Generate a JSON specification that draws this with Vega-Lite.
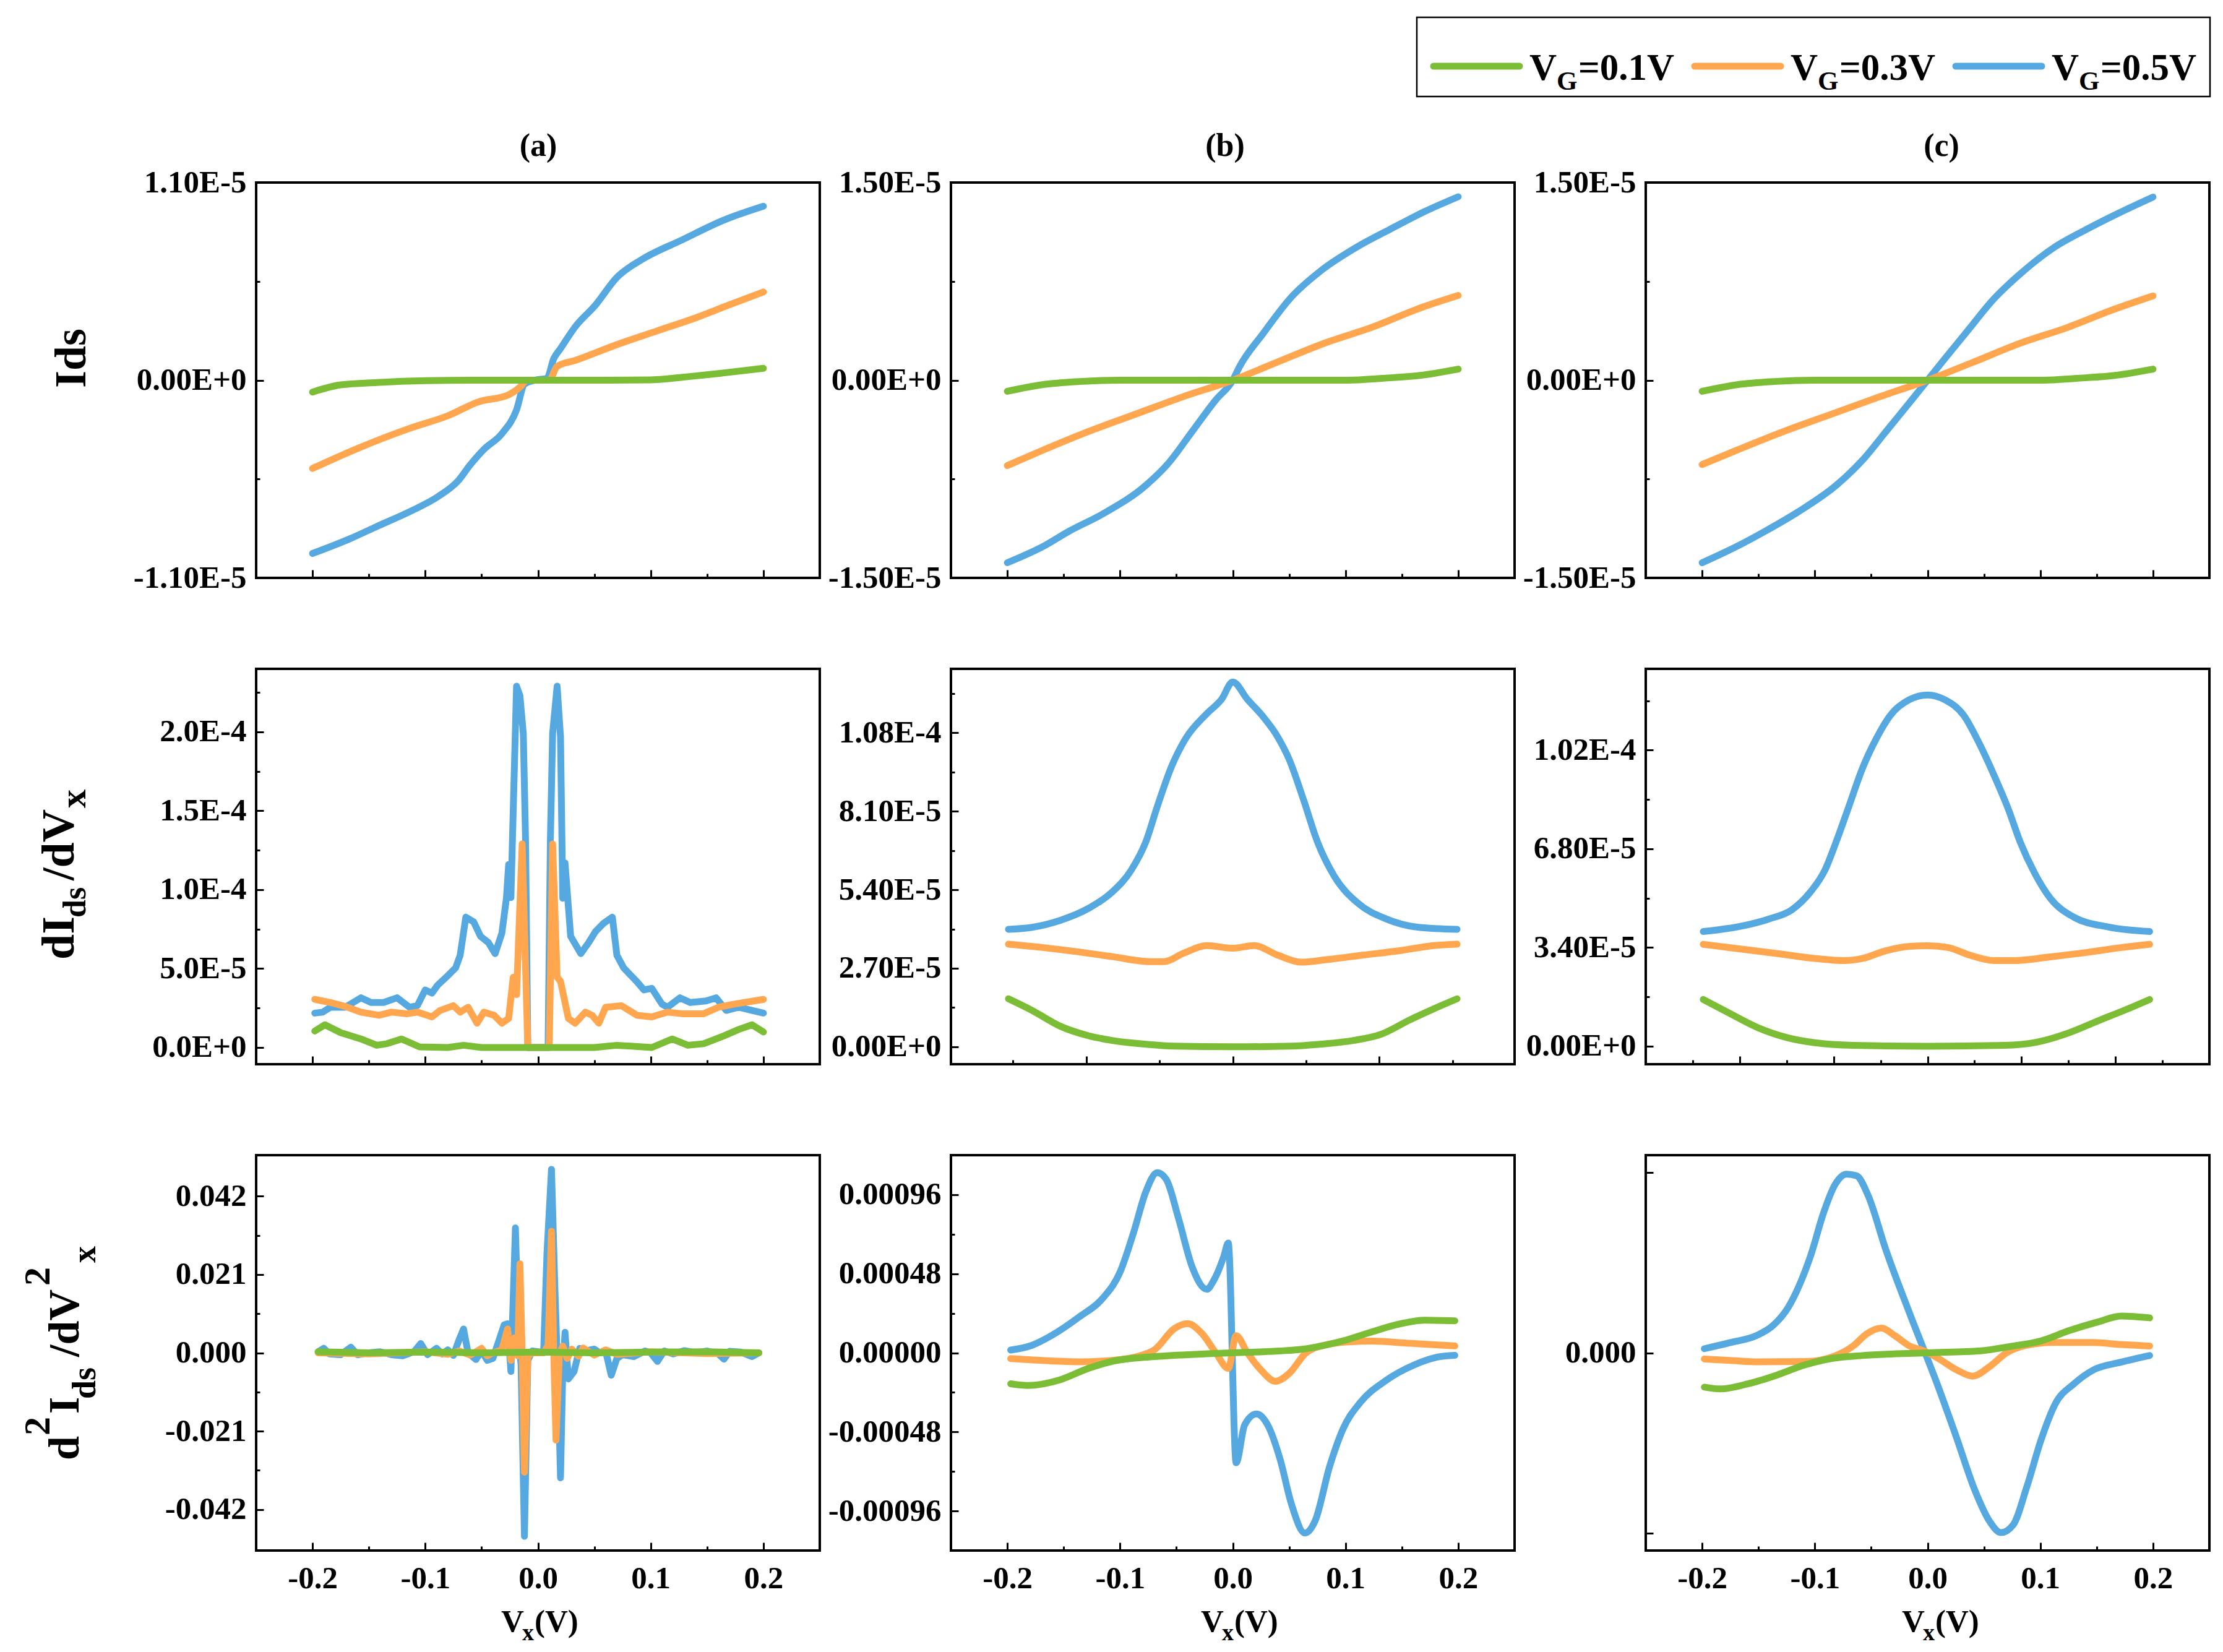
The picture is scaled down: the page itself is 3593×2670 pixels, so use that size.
{
  "$schema": "https://vega.github.io/schema/vega-lite/v6.json",
  "background": "white",
  "padding": 0,
  "columns": 3,
  "bounds": "flush",
  "spacing": {"row": 147, "column": 212},
  "datasets": {
    "iv": [
      {"p":"a1","s":"0.5","x":-0.2,"y":-9.64e-6},{"p":"a1","s":"0.5","x":-0.166,"y":-8.8e-6},{"p":"a1","s":"0.5","x":-0.143,"y":-8.14e-6},{"p":"a1","s":"0.5","x":-0.112,"y":-7.26e-6},{"p":"a1","s":"0.5","x":-0.089,"y":-6.49e-6},{"p":"a1","s":"0.5","x":-0.071,"y":-5.61e-6},{"p":"a1","s":"0.5","x":-0.06,"y":-4.7e-6},{"p":"a1","s":"0.5","x":-0.048,"y":-3.85e-6},{"p":"a1","s":"0.5","x":-0.032,"y":-2.97e-6},{"p":"a1","s":"0.5","x":-0.019,"y":-1.65e-6},{"p":"a1","s":"0.5","x":-0.012,"y":-2.2e-7},{"p":"a1","s":"0.5","x":-0.003,"y":0},{"p":"a1","s":"0.5","x":0.008,"y":1e-7},{"p":"a1","s":"0.5","x":0.014,"y":1.2e-6},{"p":"a1","s":"0.5","x":0.02,"y":1.76e-6},{"p":"a1","s":"0.5","x":0.033,"y":2.97e-6},{"p":"a1","s":"0.5","x":0.051,"y":4.18e-6},{"p":"a1","s":"0.5","x":0.07,"y":5.72e-6},{"p":"a1","s":"0.5","x":0.092,"y":6.71e-6},{"p":"a1","s":"0.5","x":0.128,"y":7.81e-6},{"p":"a1","s":"0.5","x":0.165,"y":8.91e-6},{"p":"a1","s":"0.5","x":0.2,"y":9.68e-6},
      {"p":"a1","s":"0.3","x":-0.2,"y":-4.91e-6},{"p":"a1","s":"0.3","x":-0.162,"y":-3.85e-6},{"p":"a1","s":"0.3","x":-0.112,"y":-2.64e-6},{"p":"a1","s":"0.3","x":-0.08,"y":-1.98e-6},{"p":"a1","s":"0.3","x":-0.053,"y":-1.21e-6},{"p":"a1","s":"0.3","x":-0.026,"y":-8.1e-7},{"p":"a1","s":"0.3","x":-0.015,"y":-3.3e-7},{"p":"a1","s":"0.3","x":-0.01,"y":0},{"p":"a1","s":"0.3","x":0.01,"y":0},{"p":"a1","s":"0.3","x":0.017,"y":7.7e-7},{"p":"a1","s":"0.3","x":0.033,"y":1.1e-6},{"p":"a1","s":"0.3","x":0.07,"y":1.98e-6},{"p":"a1","s":"0.3","x":0.106,"y":2.75e-6},{"p":"a1","s":"0.3","x":0.142,"y":3.52e-6},{"p":"a1","s":"0.3","x":0.169,"y":4.18e-6},{"p":"a1","s":"0.3","x":0.2,"y":4.91e-6},
      {"p":"a1","s":"0.1","x":-0.2,"y":-6.6e-7},{"p":"a1","s":"0.1","x":-0.175,"y":-2.6e-7},{"p":"a1","s":"0.1","x":-0.143,"y":-1.3e-7},{"p":"a1","s":"0.1","x":-0.1,"y":-3e-8},{"p":"a1","s":"0.1","x":-0.05,"y":0},{"p":"a1","s":"0.1","x":0,"y":0},{"p":"a1","s":"0.1","x":0.05,"y":0},{"p":"a1","s":"0.1","x":0.1,"y":2e-8},{"p":"a1","s":"0.1","x":0.137,"y":2.2e-7},{"p":"a1","s":"0.1","x":0.164,"y":4e-7},{"p":"a1","s":"0.1","x":0.2,"y":6.6e-7},

      {"p":"b1","s":"0.5","x":-0.2,"y":-1.385e-5},{"p":"b1","s":"0.5","x":-0.169,"y":-1.265e-5},{"p":"b1","s":"0.5","x":-0.145,"y":-1.145e-5},{"p":"b1","s":"0.5","x":-0.115,"y":-1.013e-5},{"p":"b1","s":"0.5","x":-0.077,"y":-7.97e-6},{"p":"b1","s":"0.5","x":-0.057,"y":-6.29e-6},{"p":"b1","s":"0.5","x":-0.036,"y":-3.89e-6},{"p":"b1","s":"0.5","x":-0.015,"y":-1.49e-6},{"p":"b1","s":"0.5","x":0,"y":0},{"p":"b1","s":"0.5","x":0.006,"y":1.03e-6},{"p":"b1","s":"0.5","x":0.027,"y":3.55e-6},{"p":"b1","s":"0.5","x":0.052,"y":6.31e-6},{"p":"b1","s":"0.5","x":0.077,"y":8.23e-6},{"p":"b1","s":"0.5","x":0.111,"y":1.015e-5},{"p":"b1","s":"0.5","x":0.14,"y":1.147e-5},{"p":"b1","s":"0.5","x":0.17,"y":1.279e-5},{"p":"b1","s":"0.5","x":0.2,"y":1.392e-5},
      {"p":"b1","s":"0.3","x":-0.2,"y":-6.48e-6},{"p":"b1","s":"0.3","x":-0.169,"y":-5.33e-6},{"p":"b1","s":"0.3","x":-0.128,"y":-3.89e-6},{"p":"b1","s":"0.3","x":-0.086,"y":-2.57e-6},{"p":"b1","s":"0.3","x":-0.044,"y":-1.25e-6},{"p":"b1","s":"0.3","x":0,"y":0},{"p":"b1","s":"0.3","x":0.04,"y":1.39e-6},{"p":"b1","s":"0.3","x":0.082,"y":2.83e-6},{"p":"b1","s":"0.3","x":0.124,"y":4.03e-6},{"p":"b1","s":"0.3","x":0.166,"y":5.47e-6},{"p":"b1","s":"0.3","x":0.2,"y":6.43e-6},
      {"p":"b1","s":"0.1","x":-0.2,"y":-8.4e-7},{"p":"b1","s":"0.1","x":-0.169,"y":-3.4e-7},{"p":"b1","s":"0.1","x":-0.136,"y":-1e-7},{"p":"b1","s":"0.1","x":-0.1,"y":0},{"p":"b1","s":"0.1","x":0,"y":0},{"p":"b1","s":"0.1","x":0.103,"y":0},{"p":"b1","s":"0.1","x":0.132,"y":1.4e-7},{"p":"b1","s":"0.1","x":0.166,"y":3.6e-7},{"p":"b1","s":"0.1","x":0.2,"y":8.4e-7},

      {"p":"c1","s":"0.5","x":-0.2,"y":-1.385e-5},{"p":"c1","s":"0.5","x":-0.169,"y":-1.26e-5},{"p":"c1","s":"0.5","x":-0.145,"y":-1.15e-5},{"p":"c1","s":"0.5","x":-0.115,"y":-1.0e-5},{"p":"c1","s":"0.5","x":-0.08,"y":-7.9e-6},{"p":"c1","s":"0.5","x":-0.057,"y":-6.0e-6},{"p":"c1","s":"0.5","x":-0.036,"y":-3.8e-6},{"p":"c1","s":"0.5","x":-0.015,"y":-1.6e-6},{"p":"c1","s":"0.5","x":0,"y":0},{"p":"c1","s":"0.5","x":0.015,"y":1.6e-6},{"p":"c1","s":"0.5","x":0.036,"y":3.8e-6},{"p":"c1","s":"0.5","x":0.057,"y":6.0e-6},{"p":"c1","s":"0.5","x":0.08,"y":7.9e-6},{"p":"c1","s":"0.5","x":0.111,"y":1.0e-5},{"p":"c1","s":"0.5","x":0.14,"y":1.14e-5},{"p":"c1","s":"0.5","x":0.17,"y":1.27e-5},{"p":"c1","s":"0.5","x":0.2,"y":1.39e-5},
      {"p":"c1","s":"0.3","x":-0.2,"y":-6.4e-6},{"p":"c1","s":"0.3","x":-0.169,"y":-5.3e-6},{"p":"c1","s":"0.3","x":-0.128,"y":-3.9e-6},{"p":"c1","s":"0.3","x":-0.086,"y":-2.6e-6},{"p":"c1","s":"0.3","x":-0.044,"y":-1.3e-6},{"p":"c1","s":"0.3","x":0,"y":0},{"p":"c1","s":"0.3","x":0.04,"y":1.35e-6},{"p":"c1","s":"0.3","x":0.082,"y":2.8e-6},{"p":"c1","s":"0.3","x":0.124,"y":4.0e-6},{"p":"c1","s":"0.3","x":0.166,"y":5.4e-6},{"p":"c1","s":"0.3","x":0.2,"y":6.4e-6},
      {"p":"c1","s":"0.1","x":-0.2,"y":-8.4e-7},{"p":"c1","s":"0.1","x":-0.169,"y":-3.4e-7},{"p":"c1","s":"0.1","x":-0.136,"y":-1e-7},{"p":"c1","s":"0.1","x":-0.1,"y":0},{"p":"c1","s":"0.1","x":0,"y":0},{"p":"c1","s":"0.1","x":0.103,"y":0},{"p":"c1","s":"0.1","x":0.132,"y":1.4e-7},{"p":"c1","s":"0.1","x":0.166,"y":3.6e-7},{"p":"c1","s":"0.1","x":0.2,"y":8.4e-7},

      {"p":"a2","s":"0.5","x":-0.198,"y":2.18e-5},{"p":"a2","s":"0.5","x":-0.191,"y":2.24e-5},{"p":"a2","s":"0.5","x":-0.184,"y":2.55e-5},{"p":"a2","s":"0.5","x":-0.171,"y":2.55e-5},{"p":"a2","s":"0.5","x":-0.157,"y":3.15e-5},{"p":"a2","s":"0.5","x":-0.148,"y":2.85e-5},{"p":"a2","s":"0.5","x":-0.137,"y":2.85e-5},{"p":"a2","s":"0.5","x":-0.125,"y":3.15e-5},{"p":"a2","s":"0.5","x":-0.114,"y":2.55e-5},{"p":"a2","s":"0.5","x":-0.107,"y":2.65e-5},{"p":"a2","s":"0.5","x":-0.1,"y":3.65e-5},{"p":"a2","s":"0.5","x":-0.094,"y":3.45e-5},{"p":"a2","s":"0.5","x":-0.089,"y":3.95e-5},{"p":"a2","s":"0.5","x":-0.08,"y":4.55e-5},{"p":"a2","s":"0.5","x":-0.073,"y":5.05e-5},{"p":"a2","s":"0.5","x":-0.069,"y":5.85e-5},{"p":"a2","s":"0.5","x":-0.064,"y":8.26e-5},{"p":"a2","s":"0.5","x":-0.057,"y":7.96e-5},{"p":"a2","s":"0.5","x":-0.051,"y":7.05e-5},{"p":"a2","s":"0.5","x":-0.044,"y":6.65e-5},{"p":"a2","s":"0.5","x":-0.038,"y":5.95e-5},{"p":"a2","s":"0.5","x":-0.032,"y":7.25e-5},{"p":"a2","s":"0.5","x":-0.028,"y":9.46e-5},{"p":"a2","s":"0.5","x":-0.026,"y":1.16e-4},{"p":"a2","s":"0.5","x":-0.024,"y":9.5e-5},{"p":"a2","s":"0.5","x":-0.019,"y":2.29e-4},{"p":"a2","s":"0.5","x":-0.016,"y":2.23e-4},{"p":"a2","s":"0.5","x":-0.013,"y":1.99e-4},{"p":"a2","s":"0.5","x":-0.011,"y":1.31e-4},{"p":"a2","s":"0.5","x":-0.009,"y":0},{"p":"a2","s":"0.5","x":0.009,"y":0},{"p":"a2","s":"0.5","x":0.011,"y":1.31e-4},{"p":"a2","s":"0.5","x":0.013,"y":1.99e-4},{"p":"a2","s":"0.5","x":0.017,"y":2.29e-4},{"p":"a2","s":"0.5","x":0.02,"y":1.97e-4},{"p":"a2","s":"0.5","x":0.022,"y":9.46e-5},{"p":"a2","s":"0.5","x":0.024,"y":1.17e-4},{"p":"a2","s":"0.5","x":0.029,"y":7.05e-5},{"p":"a2","s":"0.5","x":0.038,"y":5.95e-5},{"p":"a2","s":"0.5","x":0.045,"y":6.65e-5},{"p":"a2","s":"0.5","x":0.051,"y":7.35e-5},{"p":"a2","s":"0.5","x":0.058,"y":7.86e-5},{"p":"a2","s":"0.5","x":0.066,"y":8.26e-5},{"p":"a2","s":"0.5","x":0.07,"y":5.85e-5},{"p":"a2","s":"0.5","x":0.076,"y":5.05e-5},{"p":"a2","s":"0.5","x":0.088,"y":4.15e-5},{"p":"a2","s":"0.5","x":0.094,"y":3.65e-5},{"p":"a2","s":"0.5","x":0.101,"y":3.75e-5},{"p":"a2","s":"0.5","x":0.11,"y":2.75e-5},{"p":"a2","s":"0.5","x":0.115,"y":2.55e-5},{"p":"a2","s":"0.5","x":0.126,"y":3.15e-5},{"p":"a2","s":"0.5","x":0.135,"y":2.85e-5},{"p":"a2","s":"0.5","x":0.149,"y":2.95e-5},{"p":"a2","s":"0.5","x":0.158,"y":3.15e-5},{"p":"a2","s":"0.5","x":0.167,"y":2.35e-5},{"p":"a2","s":"0.5","x":0.178,"y":2.55e-5},{"p":"a2","s":"0.5","x":0.19,"y":2.35e-5},{"p":"a2","s":"0.5","x":0.2,"y":2.18e-5},
      {"p":"a2","s":"0.3","x":-0.198,"y":3.05e-5},{"p":"a2","s":"0.3","x":-0.184,"y":2.85e-5},{"p":"a2","s":"0.3","x":-0.171,"y":2.6e-5},{"p":"a2","s":"0.3","x":-0.157,"y":2.24e-5},{"p":"a2","s":"0.3","x":-0.141,"y":2.04e-5},{"p":"a2","s":"0.3","x":-0.13,"y":2.24e-5},{"p":"a2","s":"0.3","x":-0.116,"y":2.14e-5},{"p":"a2","s":"0.3","x":-0.107,"y":2.24e-5},{"p":"a2","s":"0.3","x":-0.094,"y":1.94e-5},{"p":"a2","s":"0.3","x":-0.087,"y":2.34e-5},{"p":"a2","s":"0.3","x":-0.075,"y":2.65e-5},{"p":"a2","s":"0.3","x":-0.069,"y":2.24e-5},{"p":"a2","s":"0.3","x":-0.062,"y":2.55e-5},{"p":"a2","s":"0.3","x":-0.054,"y":1.54e-5},{"p":"a2","s":"0.3","x":-0.048,"y":2.24e-5},{"p":"a2","s":"0.3","x":-0.039,"y":2.04e-5},{"p":"a2","s":"0.3","x":-0.032,"y":1.54e-5},{"p":"a2","s":"0.3","x":-0.026,"y":1.84e-5},{"p":"a2","s":"0.3","x":-0.022,"y":4.45e-5},{"p":"a2","s":"0.3","x":-0.019,"y":3.35e-5},{"p":"a2","s":"0.3","x":-0.014,"y":1.29e-4},{"p":"a2","s":"0.3","x":-0.011,"y":5.05e-5},{"p":"a2","s":"0.3","x":-0.009,"y":0},{"p":"a2","s":"0.3","x":0.01,"y":0},{"p":"a2","s":"0.3","x":0.013,"y":1.29e-4},{"p":"a2","s":"0.3","x":0.017,"y":4.45e-5},{"p":"a2","s":"0.3","x":0.02,"y":4.2e-5},{"p":"a2","s":"0.3","x":0.027,"y":1.84e-5},{"p":"a2","s":"0.3","x":0.033,"y":1.54e-5},{"p":"a2","s":"0.3","x":0.042,"y":2.24e-5},{"p":"a2","s":"0.3","x":0.048,"y":2.04e-5},{"p":"a2","s":"0.3","x":0.054,"y":1.54e-5},{"p":"a2","s":"0.3","x":0.06,"y":2.55e-5},{"p":"a2","s":"0.3","x":0.074,"y":2.65e-5},{"p":"a2","s":"0.3","x":0.088,"y":2.04e-5},{"p":"a2","s":"0.3","x":0.101,"y":1.94e-5},{"p":"a2","s":"0.3","x":0.115,"y":2.24e-5},{"p":"a2","s":"0.3","x":0.128,"y":2.14e-5},{"p":"a2","s":"0.3","x":0.147,"y":2.14e-5},{"p":"a2","s":"0.3","x":0.16,"y":2.55e-5},{"p":"a2","s":"0.3","x":0.174,"y":2.75e-5},{"p":"a2","s":"0.3","x":0.2,"y":3.05e-5},
      {"p":"a2","s":"0.1","x":-0.198,"y":1.04e-5},{"p":"a2","s":"0.1","x":-0.189,"y":1.44e-5},{"p":"a2","s":"0.1","x":-0.175,"y":9.4e-6},{"p":"a2","s":"0.1","x":-0.157,"y":5.4e-6},{"p":"a2","s":"0.1","x":-0.143,"y":1.4e-6},{"p":"a2","s":"0.1","x":-0.134,"y":2.4e-6},{"p":"a2","s":"0.1","x":-0.121,"y":5.4e-6},{"p":"a2","s":"0.1","x":-0.105,"y":4e-7},{"p":"a2","s":"0.1","x":-0.08,"y":0},{"p":"a2","s":"0.1","x":-0.066,"y":1.4e-6},{"p":"a2","s":"0.1","x":-0.05,"y":0},{"p":"a2","s":"0.1","x":0,"y":0},{"p":"a2","s":"0.1","x":0.05,"y":0},{"p":"a2","s":"0.1","x":0.07,"y":1.4e-6},{"p":"a2","s":"0.1","x":0.101,"y":0},{"p":"a2","s":"0.1","x":0.119,"y":5.4e-6},{"p":"a2","s":"0.1","x":0.133,"y":1.4e-6},{"p":"a2","s":"0.1","x":0.147,"y":2.4e-6},{"p":"a2","s":"0.1","x":0.165,"y":7.4e-6},{"p":"a2","s":"0.1","x":0.178,"y":1.14e-5},{"p":"a2","s":"0.1","x":0.19,"y":1.44e-5},{"p":"a2","s":"0.1","x":0.2,"y":9.8e-6},

      {"p":"b2","s":"0.5","x":-0.199,"y":4.04e-5},{"p":"b2","s":"0.5","x":-0.178,"y":4.11e-5},{"p":"b2","s":"0.5","x":-0.153,"y":4.35e-5},{"p":"b2","s":"0.5","x":-0.128,"y":4.76e-5},{"p":"b2","s":"0.5","x":-0.107,"y":5.32e-5},{"p":"b2","s":"0.5","x":-0.09,"y":6.08e-5},{"p":"b2","s":"0.5","x":-0.077,"y":7.06e-5},{"p":"b2","s":"0.5","x":-0.067,"y":8.26e-5},{"p":"b2","s":"0.5","x":-0.054,"y":9.67e-5},{"p":"b2","s":"0.5","x":-0.042,"y":1.059e-4},{"p":"b2","s":"0.5","x":-0.023,"y":1.146e-4},{"p":"b2","s":"0.5","x":-0.01,"y":1.195e-4},{"p":"b2","s":"0.5","x":0,"y":1.255e-4},{"p":"b2","s":"0.5","x":0.013,"y":1.195e-4},{"p":"b2","s":"0.5","x":0.027,"y":1.135e-4},{"p":"b2","s":"0.5","x":0.04,"y":1.065e-4},{"p":"b2","s":"0.5","x":0.05,"y":9.89e-5},{"p":"b2","s":"0.5","x":0.063,"y":8.47e-5},{"p":"b2","s":"0.5","x":0.075,"y":7.06e-5},{"p":"b2","s":"0.5","x":0.09,"y":5.87e-5},{"p":"b2","s":"0.5","x":0.111,"y":4.94e-5},{"p":"b2","s":"0.5","x":0.136,"y":4.4e-5},{"p":"b2","s":"0.5","x":0.165,"y":4.11e-5},{"p":"b2","s":"0.5","x":0.199,"y":4.04e-5},
      {"p":"b2","s":"0.3","x":-0.199,"y":3.53e-5},{"p":"b2","s":"0.3","x":-0.17,"y":3.42e-5},{"p":"b2","s":"0.3","x":-0.136,"y":3.26e-5},{"p":"b2","s":"0.3","x":-0.107,"y":3.1e-5},{"p":"b2","s":"0.3","x":-0.073,"y":2.93e-5},{"p":"b2","s":"0.3","x":-0.061,"y":2.93e-5},{"p":"b2","s":"0.3","x":-0.044,"y":3.21e-5},{"p":"b2","s":"0.3","x":-0.023,"y":3.48e-5},{"p":"b2","s":"0.3","x":0,"y":3.39e-5},{"p":"b2","s":"0.3","x":0.019,"y":3.48e-5},{"p":"b2","s":"0.3","x":0.04,"y":3.15e-5},{"p":"b2","s":"0.3","x":0.061,"y":2.91e-5},{"p":"b2","s":"0.3","x":0.082,"y":2.99e-5},{"p":"b2","s":"0.3","x":0.115,"y":3.15e-5},{"p":"b2","s":"0.3","x":0.149,"y":3.31e-5},{"p":"b2","s":"0.3","x":0.178,"y":3.48e-5},{"p":"b2","s":"0.3","x":0.199,"y":3.53e-5},
      {"p":"b2","s":"0.1","x":-0.199,"y":1.65e-5},{"p":"b2","s":"0.1","x":-0.178,"y":1.25e-5},{"p":"b2","s":"0.1","x":-0.153,"y":7.06e-6},{"p":"b2","s":"0.1","x":-0.128,"y":3.8e-6},{"p":"b2","s":"0.1","x":-0.107,"y":2.17e-6},{"p":"b2","s":"0.1","x":-0.077,"y":8.7e-7},{"p":"b2","s":"0.1","x":-0.052,"y":2.2e-7},{"p":"b2","s":"0.1","x":0,"y":0},{"p":"b2","s":"0.1","x":0.052,"y":2.2e-7},{"p":"b2","s":"0.1","x":0.077,"y":8.7e-7},{"p":"b2","s":"0.1","x":0.107,"y":2.17e-6},{"p":"b2","s":"0.1","x":0.132,"y":4.35e-6},{"p":"b2","s":"0.1","x":0.157,"y":9.24e-6},{"p":"b2","s":"0.1","x":0.178,"y":1.3e-5},{"p":"b2","s":"0.1","x":0.199,"y":1.65e-5},

      {"p":"c2","s":"0.5","x":-0.199,"y":3.95e-5},{"p":"c2","s":"0.5","x":-0.166,"y":4.13e-5},{"p":"c2","s":"0.5","x":-0.141,"y":4.38e-5},{"p":"c2","s":"0.5","x":-0.12,"y":4.71e-5},{"p":"c2","s":"0.5","x":-0.104,"y":5.31e-5},{"p":"c2","s":"0.5","x":-0.091,"y":6.07e-5},{"p":"c2","s":"0.5","x":-0.081,"y":7.05e-5},{"p":"c2","s":"0.5","x":-0.07,"y":8.24e-5},{"p":"c2","s":"0.5","x":-0.058,"y":9.55e-5},{"p":"c2","s":"0.5","x":-0.045,"y":1.063e-4},{"p":"c2","s":"0.5","x":-0.033,"y":1.14e-4},{"p":"c2","s":"0.5","x":-0.016,"y":1.194e-4},{"p":"c2","s":"0.5","x":0,"y":1.21e-4},{"p":"c2","s":"0.5","x":0.015,"y":1.194e-4},{"p":"c2","s":"0.5","x":0.032,"y":1.14e-4},{"p":"c2","s":"0.5","x":0.046,"y":1.042e-4},{"p":"c2","s":"0.5","x":0.059,"y":9.33e-5},{"p":"c2","s":"0.5","x":0.072,"y":8.13e-5},{"p":"c2","s":"0.5","x":0.082,"y":7.05e-5},{"p":"c2","s":"0.5","x":0.095,"y":5.96e-5},{"p":"c2","s":"0.5","x":0.109,"y":5.09e-5},{"p":"c2","s":"0.5","x":0.13,"y":4.44e-5},{"p":"c2","s":"0.5","x":0.16,"y":4.11e-5},{"p":"c2","s":"0.5","x":0.197,"y":3.95e-5},
      {"p":"c2","s":"0.3","x":-0.199,"y":3.51e-5},{"p":"c2","s":"0.3","x":-0.166,"y":3.35e-5},{"p":"c2","s":"0.3","x":-0.133,"y":3.19e-5},{"p":"c2","s":"0.3","x":-0.099,"y":3.02e-5},{"p":"c2","s":"0.3","x":-0.074,"y":2.95e-5},{"p":"c2","s":"0.3","x":-0.058,"y":3.02e-5},{"p":"c2","s":"0.3","x":-0.037,"y":3.29e-5},{"p":"c2","s":"0.3","x":-0.016,"y":3.44e-5},{"p":"c2","s":"0.3","x":0,"y":3.46e-5},{"p":"c2","s":"0.3","x":0.018,"y":3.4e-5},{"p":"c2","s":"0.3","x":0.038,"y":3.13e-5},{"p":"c2","s":"0.3","x":0.059,"y":2.95e-5},{"p":"c2","s":"0.3","x":0.076,"y":2.95e-5},{"p":"c2","s":"0.3","x":0.109,"y":3.08e-5},{"p":"c2","s":"0.3","x":0.143,"y":3.24e-5},{"p":"c2","s":"0.3","x":0.172,"y":3.4e-5},{"p":"c2","s":"0.3","x":0.197,"y":3.51e-5},
      {"p":"c2","s":"0.1","x":-0.199,"y":1.61e-5},{"p":"c2","s":"0.1","x":-0.175,"y":1.12e-5},{"p":"c2","s":"0.1","x":-0.15,"y":6.3e-6},{"p":"c2","s":"0.1","x":-0.125,"y":3.0e-6},{"p":"c2","s":"0.1","x":-0.1,"y":1.2e-6},{"p":"c2","s":"0.1","x":-0.066,"y":3e-7},{"p":"c2","s":"0.1","x":0,"y":0},{"p":"c2","s":"0.1","x":0.068,"y":3e-7},{"p":"c2","s":"0.1","x":0.097,"y":1.4e-6},{"p":"c2","s":"0.1","x":0.126,"y":4.7e-6},{"p":"c2","s":"0.1","x":0.151,"y":8.7e-6},{"p":"c2","s":"0.1","x":0.176,"y":1.26e-5},{"p":"c2","s":"0.1","x":0.197,"y":1.61e-5},

      {"p":"a3","s":"0.5","x":-0.195,"y":0.0003},{"p":"a3","s":"0.5","x":-0.19,"y":0.0012},{"p":"a3","s":"0.5","x":-0.185,"y":-0.0003},{"p":"a3","s":"0.5","x":-0.175,"y":-0.0005},{"p":"a3","s":"0.5","x":-0.166,"y":0.0015},{"p":"a3","s":"0.5","x":-0.16,"y":-0.0005},{"p":"a3","s":"0.5","x":-0.15,"y":0},{"p":"a3","s":"0.5","x":-0.14,"y":0.0003},{"p":"a3","s":"0.5","x":-0.13,"y":-0.0005},{"p":"a3","s":"0.5","x":-0.12,"y":-0.0008},{"p":"a3","s":"0.5","x":-0.11,"y":0.0003},{"p":"a3","s":"0.5","x":-0.104,"y":0.0025},{"p":"a3","s":"0.5","x":-0.098,"y":-0.0005},{"p":"a3","s":"0.5","x":-0.09,"y":0.0012},{"p":"a3","s":"0.5","x":-0.085,"y":-0.0003},{"p":"a3","s":"0.5","x":-0.08,"y":0.0008},{"p":"a3","s":"0.5","x":-0.075,"y":-0.0007},{"p":"a3","s":"0.5","x":-0.07,"y":0.0035},{"p":"a3","s":"0.5","x":-0.066,"y":0.0064},{"p":"a3","s":"0.5","x":-0.062,"y":0},{"p":"a3","s":"0.5","x":-0.055,"y":-0.0018},{"p":"a3","s":"0.5","x":-0.05,"y":0.0005},{"p":"a3","s":"0.5","x":-0.045,"y":-0.002},{"p":"a3","s":"0.5","x":-0.04,"y":-0.0015},{"p":"a3","s":"0.5","x":-0.035,"y":0.003},{"p":"a3","s":"0.5","x":-0.03,"y":0.0075},{"p":"a3","s":"0.5","x":-0.027,"y":0.0078},{"p":"a3","s":"0.5","x":-0.024,"y":-0.005},{"p":"a3","s":"0.5","x":-0.02,"y":0.0335},{"p":"a3","s":"0.5","x":-0.017,"y":0.002},{"p":"a3","s":"0.5","x":-0.015,"y":-0.003},{"p":"a3","s":"0.5","x":-0.012,"y":-0.0492},{"p":"a3","s":"0.5","x":-0.009,"y":-0.002},{"p":"a3","s":"0.5","x":-0.005,"y":0.0005},{"p":"a3","s":"0.5","x":0,"y":0.0003},{"p":"a3","s":"0.5","x":0.005,"y":0},{"p":"a3","s":"0.5","x":0.008,"y":0.0267},{"p":"a3","s":"0.5","x":0.012,"y":0.0492},{"p":"a3","s":"0.5","x":0.015,"y":0.0175},{"p":"a3","s":"0.5","x":0.018,"y":-0.01},{"p":"a3","s":"0.5","x":0.02,"y":-0.0335},{"p":"a3","s":"0.5","x":0.022,"y":-0.005},{"p":"a3","s":"0.5","x":0.024,"y":0.0055},{"p":"a3","s":"0.5","x":0.027,"y":-0.007},{"p":"a3","s":"0.5","x":0.032,"y":-0.005},{"p":"a3","s":"0.5","x":0.037,"y":0.0012},{"p":"a3","s":"0.5","x":0.042,"y":0.0005},{"p":"a3","s":"0.5","x":0.05,"y":0.001},{"p":"a3","s":"0.5","x":0.055,"y":0},{"p":"a3","s":"0.5","x":0.06,"y":0.0005},{"p":"a3","s":"0.5","x":0.065,"y":-0.006},{"p":"a3","s":"0.5","x":0.07,"y":-0.0015},{"p":"a3","s":"0.5","x":0.075,"y":-0.0005},{"p":"a3","s":"0.5","x":0.085,"y":-0.001},{"p":"a3","s":"0.5","x":0.095,"y":0.0005},{"p":"a3","s":"0.5","x":0.1,"y":0},{"p":"a3","s":"0.5","x":0.106,"y":-0.0023},{"p":"a3","s":"0.5","x":0.112,"y":0.0005},{"p":"a3","s":"0.5","x":0.12,"y":-0.0003},{"p":"a3","s":"0.5","x":0.13,"y":0.0006},{"p":"a3","s":"0.5","x":0.14,"y":0},{"p":"a3","s":"0.5","x":0.15,"y":0.0005},{"p":"a3","s":"0.5","x":0.16,"y":-0.0003},{"p":"a3","s":"0.5","x":0.165,"y":-0.0017},{"p":"a3","s":"0.5","x":0.17,"y":0.0004},{"p":"a3","s":"0.5","x":0.18,"y":0.0002},{"p":"a3","s":"0.5","x":0.19,"y":-0.001},{"p":"a3","s":"0.5","x":0.196,"y":0},
      {"p":"a3","s":"0.3","x":-0.195,"y":0},{"p":"a3","s":"0.3","x":-0.15,"y":-0.0003},{"p":"a3","s":"0.3","x":-0.1,"y":0.0003},{"p":"a3","s":"0.3","x":-0.08,"y":-0.0004},{"p":"a3","s":"0.3","x":-0.07,"y":0.0005},{"p":"a3","s":"0.3","x":-0.06,"y":-0.0006},{"p":"a3","s":"0.3","x":-0.05,"y":0.0012},{"p":"a3","s":"0.3","x":-0.045,"y":-0.0008},{"p":"a3","s":"0.3","x":-0.04,"y":0},{"p":"a3","s":"0.3","x":-0.032,"y":0.0008},{"p":"a3","s":"0.3","x":-0.027,"y":0.0064},{"p":"a3","s":"0.3","x":-0.024,"y":-0.002},{"p":"a3","s":"0.3","x":-0.021,"y":0.004},{"p":"a3","s":"0.3","x":-0.018,"y":-0.0008},{"p":"a3","s":"0.3","x":-0.016,"y":0.0239},{"p":"a3","s":"0.3","x":-0.014,"y":0},{"p":"a3","s":"0.3","x":-0.012,"y":-0.032},{"p":"a3","s":"0.3","x":-0.009,"y":-0.001},{"p":"a3","s":"0.3","x":-0.005,"y":0},{"p":"a3","s":"0.3","x":0.005,"y":0},{"p":"a3","s":"0.3","x":0.009,"y":0.002},{"p":"a3","s":"0.3","x":0.012,"y":0.0326},{"p":"a3","s":"0.3","x":0.014,"y":0},{"p":"a3","s":"0.3","x":0.016,"y":-0.0234},{"p":"a3","s":"0.3","x":0.019,"y":-0.0005},{"p":"a3","s":"0.3","x":0.022,"y":0.0018},{"p":"a3","s":"0.3","x":0.026,"y":-0.0015},{"p":"a3","s":"0.3","x":0.03,"y":0.001},{"p":"a3","s":"0.3","x":0.036,"y":-0.0009},{"p":"a3","s":"0.3","x":0.04,"y":0.0013},{"p":"a3","s":"0.3","x":0.05,"y":-0.0006},{"p":"a3","s":"0.3","x":0.06,"y":0.0008},{"p":"a3","s":"0.3","x":0.07,"y":-0.0004},{"p":"a3","s":"0.3","x":0.1,"y":0.0003},{"p":"a3","s":"0.3","x":0.15,"y":-0.0002},{"p":"a3","s":"0.3","x":0.196,"y":0},
      {"p":"a3","s":"0.1","x":-0.195,"y":0.0003},{"p":"a3","s":"0.1","x":-0.15,"y":0},{"p":"a3","s":"0.1","x":-0.1,"y":0.0002},{"p":"a3","s":"0.1","x":-0.05,"y":0},{"p":"a3","s":"0.1","x":0,"y":0.0002},{"p":"a3","s":"0.1","x":0.05,"y":0},{"p":"a3","s":"0.1","x":0.1,"y":0.0002},{"p":"a3","s":"0.1","x":0.15,"y":0.0003},{"p":"a3","s":"0.1","x":0.196,"y":0},

      {"p":"b3","s":"0.5","x":-0.197,"y":1.7e-5},{"p":"b3","s":"0.5","x":-0.178,"y":4.6e-5},{"p":"b3","s":"0.5","x":-0.161,"y":1.04e-4},{"p":"b3","s":"0.5","x":-0.136,"y":2.19e-4},{"p":"b3","s":"0.5","x":-0.115,"y":3.34e-4},{"p":"b3","s":"0.5","x":-0.1,"y":4.9e-4},{"p":"b3","s":"0.5","x":-0.088,"y":7.3e-4},{"p":"b3","s":"0.5","x":-0.077,"y":9.8e-4},{"p":"b3","s":"0.5","x":-0.067,"y":1.094e-3},{"p":"b3","s":"0.5","x":-0.059,"y":1.053e-3},{"p":"b3","s":"0.5","x":-0.048,"y":8.13e-4},{"p":"b3","s":"0.5","x":-0.036,"y":5.21e-4},{"p":"b3","s":"0.5","x":-0.023,"y":3.86e-4},{"p":"b3","s":"0.5","x":-0.017,"y":4.38e-4},{"p":"b3","s":"0.5","x":-0.008,"y":5.84e-4},{"p":"b3","s":"0.5","x":-0.004,"y":6.67e-4},{"p":"b3","s":"0.5","x":0.003,"y":-6.67e-4},{"p":"b3","s":"0.5","x":0.0105,"y":-4.38e-4},{"p":"b3","s":"0.5","x":0.021,"y":-3.71e-4},{"p":"b3","s":"0.5","x":0.031,"y":-4.38e-4},{"p":"b3","s":"0.5","x":0.042,"y":-6.46e-4},{"p":"b3","s":"0.5","x":0.052,"y":-9.17e-4},{"p":"b3","s":"0.5","x":0.064,"y":-1.094e-3},{"p":"b3","s":"0.5","x":0.073,"y":-1.021e-3},{"p":"b3","s":"0.5","x":0.086,"y":-6.88e-4},{"p":"b3","s":"0.5","x":0.098,"y":-4.59e-4},{"p":"b3","s":"0.5","x":0.113,"y":-3.02e-4},{"p":"b3","s":"0.5","x":0.136,"y":-1.67e-4},{"p":"b3","s":"0.5","x":0.161,"y":-7.3e-5},{"p":"b3","s":"0.5","x":0.182,"y":-2.5e-5},{"p":"b3","s":"0.5","x":0.197,"y":-1.5e-5},
      {"p":"b3","s":"0.3","x":-0.197,"y":-3.5e-5},{"p":"b3","s":"0.3","x":-0.169,"y":-4.6e-5},{"p":"b3","s":"0.3","x":-0.136,"y":-5.4e-5},{"p":"b3","s":"0.3","x":-0.107,"y":-4.6e-5},{"p":"b3","s":"0.3","x":-0.082,"y":-1.7e-5},{"p":"b3","s":"0.3","x":-0.069,"y":2.1e-5},{"p":"b3","s":"0.3","x":-0.052,"y":1.46e-4},{"p":"b3","s":"0.3","x":-0.04,"y":1.77e-4},{"p":"b3","s":"0.3","x":-0.027,"y":1.15e-4},{"p":"b3","s":"0.3","x":-0.015,"y":0},{"p":"b3","s":"0.3","x":-0.004,"y":-9.4e-5},{"p":"b3","s":"0.3","x":0.003,"y":1.04e-4},{"p":"b3","s":"0.3","x":0.013,"y":0},{"p":"b3","s":"0.3","x":0.025,"y":-1.04e-4},{"p":"b3","s":"0.3","x":0.038,"y":-1.73e-4},{"p":"b3","s":"0.3","x":0.05,"y":-1.25e-4},{"p":"b3","s":"0.3","x":0.065,"y":0},{"p":"b3","s":"0.3","x":0.082,"y":4.8e-5},{"p":"b3","s":"0.3","x":0.103,"y":6.7e-5},{"p":"b3","s":"0.3","x":0.124,"y":7.1e-5},{"p":"b3","s":"0.3","x":0.157,"y":5.8e-5},{"p":"b3","s":"0.3","x":0.197,"y":4.2e-5},
      {"p":"b3","s":"0.1","x":-0.197,"y":-1.88e-4},{"p":"b3","s":"0.1","x":-0.182,"y":-1.98e-4},{"p":"b3","s":"0.1","x":-0.153,"y":-1.63e-4},{"p":"b3","s":"0.1","x":-0.128,"y":-9.4e-5},{"p":"b3","s":"0.1","x":-0.103,"y":-4.6e-5},{"p":"b3","s":"0.1","x":-0.065,"y":-2.1e-5},{"p":"b3","s":"0.1","x":-0.023,"y":-6e-6},{"p":"b3","s":"0.1","x":0,"y":0},{"p":"b3","s":"0.1","x":0.031,"y":8e-6},{"p":"b3","s":"0.1","x":0.065,"y":2.5e-5},{"p":"b3","s":"0.1","x":0.098,"y":7.3e-5},{"p":"b3","s":"0.1","x":0.124,"y":1.29e-4},{"p":"b3","s":"0.1","x":0.149,"y":1.77e-4},{"p":"b3","s":"0.1","x":0.17,"y":1.98e-4},{"p":"b3","s":"0.1","x":0.197,"y":1.94e-4},

      {"p":"c3","s":"0.5","x":-0.198,"y":2.3e-5},{"p":"c3","s":"0.5","x":-0.175,"y":5.7e-5},{"p":"c3","s":"0.5","x":-0.152,"y":9.5e-5},{"p":"c3","s":"0.5","x":-0.137,"y":1.52e-4},{"p":"c3","s":"0.5","x":-0.124,"y":2.48e-4},{"p":"c3","s":"0.5","x":-0.114,"y":3.71e-4},{"p":"c3","s":"0.5","x":-0.103,"y":5.52e-4},{"p":"c3","s":"0.5","x":-0.093,"y":7.62e-4},{"p":"c3","s":"0.5","x":-0.082,"y":9.33e-4},{"p":"c3","s":"0.5","x":-0.072,"y":9.9e-4},{"p":"c3","s":"0.5","x":-0.063,"y":9.81e-4},{"p":"c3","s":"0.5","x":-0.053,"y":8.76e-4},{"p":"c3","s":"0.5","x":-0.037,"y":5.71e-4},{"p":"c3","s":"0.5","x":-0.016,"y":2.2e-4},{"p":"c3","s":"0.5","x":0.009,"y":-1.8e-4},{"p":"c3","s":"0.5","x":0.025,"y":-4.57e-4},{"p":"c3","s":"0.5","x":0.042,"y":-7.62e-4},{"p":"c3","s":"0.5","x":0.055,"y":-9.33e-4},{"p":"c3","s":"0.5","x":0.065,"y":-9.96e-4},{"p":"c3","s":"0.5","x":0.076,"y":-9.52e-4},{"p":"c3","s":"0.5","x":0.088,"y":-7.43e-4},{"p":"c3","s":"0.5","x":0.101,"y":-4.76e-4},{"p":"c3","s":"0.5","x":0.113,"y":-2.86e-4},{"p":"c3","s":"0.5","x":0.13,"y":-1.71e-4},{"p":"c3","s":"0.5","x":0.147,"y":-9.5e-5},{"p":"c3","s":"0.5","x":0.172,"y":-5.1e-5},{"p":"c3","s":"0.5","x":0.197,"y":-1.5e-5},
      {"p":"c3","s":"0.3","x":-0.198,"y":-3.4e-5},{"p":"c3","s":"0.3","x":-0.175,"y":-4.2e-5},{"p":"c3","s":"0.3","x":-0.15,"y":-5.0e-5},{"p":"c3","s":"0.3","x":-0.108,"y":-4.8e-5},{"p":"c3","s":"0.3","x":-0.083,"y":-1.9e-5},{"p":"c3","s":"0.3","x":-0.066,"y":3.8e-5},{"p":"c3","s":"0.3","x":-0.054,"y":1.05e-4},{"p":"c3","s":"0.3","x":-0.041,"y":1.37e-4},{"p":"c3","s":"0.3","x":-0.029,"y":9.5e-5},{"p":"c3","s":"0.3","x":-0.016,"y":3.8e-5},{"p":"c3","s":"0.3","x":-0.003,"y":1e-5},{"p":"c3","s":"0.3","x":0.009,"y":-2.9e-5},{"p":"c3","s":"0.3","x":0.026,"y":-9.5e-5},{"p":"c3","s":"0.3","x":0.04,"y":-1.29e-4},{"p":"c3","s":"0.3","x":0.055,"y":-7.6e-5},{"p":"c3","s":"0.3","x":0.07,"y":0},{"p":"c3","s":"0.3","x":0.088,"y":4.2e-5},{"p":"c3","s":"0.3","x":0.109,"y":5.7e-5},{"p":"c3","s":"0.3","x":0.147,"y":5.7e-5},{"p":"c3","s":"0.3","x":0.172,"y":4.6e-5},{"p":"c3","s":"0.3","x":0.197,"y":3.8e-5},
      {"p":"c3","s":"0.1","x":-0.198,"y":-1.9e-4},{"p":"c3","s":"0.1","x":-0.184,"y":-2.0e-4},{"p":"c3","s":"0.1","x":-0.159,"y":-1.71e-4},{"p":"c3","s":"0.1","x":-0.134,"y":-1.24e-4},{"p":"c3","s":"0.1","x":-0.109,"y":-6.7e-5},{"p":"c3","s":"0.1","x":-0.083,"y":-2.9e-5},{"p":"c3","s":"0.1","x":-0.058,"y":-1.5e-5},{"p":"c3","s":"0.1","x":0,"y":0},{"p":"c3","s":"0.1","x":0.047,"y":1.1e-5},{"p":"c3","s":"0.1","x":0.072,"y":3.4e-5},{"p":"c3","s":"0.1","x":0.101,"y":6.7e-5},{"p":"c3","s":"0.1","x":0.126,"y":1.24e-4},{"p":"c3","s":"0.1","x":0.151,"y":1.71e-4},{"p":"c3","s":"0.1","x":0.172,"y":2.04e-4},{"p":"c3","s":"0.1","x":0.197,"y":1.94e-4}
    ],
    "legend": [
      {"s":"0.1","t":"=0.1V"},{"s":"0.3","t":"=0.3V"},{"s":"0.5","t":"=0.5V"}
    ]
  },
  "concat": [
    {
      "width": 911, "height": 639,
      "layer": [
        {
          "data": {"name": "iv"},
          "transform": [{"filter": "datum.p === 'a1'"}],
          "mark": {"type": "line", "strokeWidth": 11, "strokeCap": "round", "strokeJoin": "round", "interpolate": "monotone"},
          "encoding": {
            "x": {"field": "x", "type": "quantitative", "scale": {"domain": [-0.25, 0.25], "nice": false, "zero": false},
                  "axis": {"orient": "bottom", "title": null, "labels": false, "values": [-0.2,-0.15,-0.1,-0.05,0,0.05,0.1,0.15,0.2],
                           "tickSize": {"condition": {"test": "indexof([-0.2,-0.1,0,0.1,0.2], datum.value) >= 0", "value": -13}, "value": -7}}},
            "y": {"field": "y", "type": "quantitative", "scale": {"domain": [-1.1e-5, 1.1e-5], "nice": false, "zero": false},
                  "axis": {"title": null, "values": [-1.1e-5,-5.5e-6,0,5.5e-6,1.1e-5], "labelPadding": 28,
                           "labelExpr": "indexof([-1.1e-5,0,1.1e-5], datum.value) >= 0 ? replace(upper(format(datum.value, '.2e')), '\u2212', '-') : ''",
                           "tickSize": {"condition": {"test": "indexof([-1.1e-5,0,1.1e-5], datum.value) >= 0", "value": -12}, "value": -6}}},
            "color": {"field": "s", "type": "nominal", "scale": {"domain": ["0.1","0.3","0.5"], "range": ["#7BBE36","#FFA64F","#56A9E0"]}, "legend": null}
          }
        },
        {"data": {"values": [{}]}, "mark": {"type": "rect", "opacity": 0}, "encoding": {"x": {"value": -412}, "x2": {"value": 0}, "y": {"value": -293}, "y2": {"value": 0}}},
        {"data": {"values": [{}]}, "mark": {"type": "text", "text": "(a)", "fontSize": 52, "align": "center", "baseline": "alphabetic"}, "encoding": {"x": {"value": 456}, "y": {"value": -43}}},
        {"data": {"values": [{}]}, "mark": {"type": "text", "text": "Ids", "fontSize": 72, "angle": 270, "align": "center", "baseline": "alphabetic"}, "encoding": {"x": {"value": -276}, "y": {"value": 284}}}
      ]
    },
    {
      "width": 911, "height": 639,
      "layer": [
        {
          "data": {"name": "iv"},
          "transform": [{"filter": "datum.p === 'b1'"}],
          "mark": {"type": "line", "strokeWidth": 11, "strokeCap": "round", "strokeJoin": "round", "interpolate": "monotone"},
          "encoding": {
            "x": {"field": "x", "type": "quantitative", "scale": {"domain": [-0.25, 0.25], "nice": false, "zero": false},
                  "axis": {"orient": "bottom", "title": null, "labels": false, "values": [-0.2,-0.15,-0.1,-0.05,0,0.05,0.1,0.15,0.2],
                           "tickSize": {"condition": {"test": "indexof([-0.2,-0.1,0,0.1,0.2], datum.value) >= 0", "value": -13}, "value": -7}}},
            "y": {"field": "y", "type": "quantitative", "scale": {"domain": [-1.5e-5, 1.5e-5], "nice": false, "zero": false},
                  "axis": {"title": null, "values": [-1.5e-5,-7.5e-6,0,7.5e-6,1.5e-5], "labelPadding": 28,
                           "labelExpr": "indexof([-1.5e-5,0,1.5e-5], datum.value) >= 0 ? replace(upper(format(datum.value, '.2e')), '\u2212', '-') : ''",
                           "tickSize": {"condition": {"test": "indexof([-1.5e-5,0,1.5e-5], datum.value) >= 0", "value": -12}, "value": -6}}},
            "color": {"field": "s", "type": "nominal", "scale": {"domain": ["0.1","0.3","0.5"], "range": ["#7BBE36","#FFA64F","#56A9E0"]}, "legend": null}
          }
        },
        {"data": {"values": [{}]}, "mark": {"type": "text", "text": "(b)", "fontSize": 52, "align": "center", "baseline": "alphabetic"}, "encoding": {"x": {"value": 443}, "y": {"value": -43}}}
      ]
    },
    {
      "width": 911, "height": 639,
      "resolve": {"scale": {"x": "independent"}},
      "layer": [
        {
          "data": {"name": "iv"},
          "transform": [{"filter": "datum.p === 'c1'"}],
          "mark": {"type": "line", "strokeWidth": 11, "strokeCap": "round", "strokeJoin": "round", "interpolate": "monotone"},
          "encoding": {
            "x": {"field": "x", "type": "quantitative", "scale": {"domain": [-0.25, 0.25], "nice": false, "zero": false},
                  "axis": {"orient": "bottom", "title": null, "labels": false, "values": [-0.2,-0.15,-0.1,-0.05,0,0.05,0.1,0.15,0.2],
                           "tickSize": {"condition": {"test": "indexof([-0.2,-0.1,0,0.1,0.2], datum.value) >= 0", "value": -13}, "value": -7}}},
            "y": {"field": "y", "type": "quantitative", "scale": {"domain": [-1.5e-5, 1.5e-5], "nice": false, "zero": false},
                  "axis": {"title": null, "values": [-1.5e-5,-7.5e-6,0,7.5e-6,1.5e-5], "labelPadding": 28,
                           "labelExpr": "indexof([-1.5e-5,0,1.5e-5], datum.value) >= 0 ? replace(upper(format(datum.value, '.2e')), '\u2212', '-') : ''",
                           "tickSize": {"condition": {"test": "indexof([-1.5e-5,0,1.5e-5], datum.value) >= 0", "value": -12}, "value": -6}}},
            "color": {"field": "s", "type": "nominal", "scale": {"domain": ["0.1","0.3","0.5"], "range": ["#7BBE36","#FFA64F","#56A9E0"]}, "legend": null}
          }
        },
        {"data": {"values": [{}]}, "mark": {"type": "text", "text": "(c)", "fontSize": 52, "align": "center", "baseline": "alphabetic"}, "encoding": {"x": {"value": 478}, "y": {"value": -43}}},
        {"data": {"values": [{}]}, "mark": {"type": "rect", "fill": "white", "stroke": "black", "strokeWidth": 2.5}, "encoding": {"x": {"value": -370}, "x2": {"value": 912}, "y": {"value": -267}, "y2": {"value": -139}}},
        {"data": {"name": "legend"}, "mark": {"type": "rule", "strokeWidth": 11, "strokeCap": "round", "x2Offset": 139},
         "encoding": {"x": {"field": "s", "type": "nominal", "scale": {"type": "point", "domain": ["0.1","0.3","0.5"], "range": [-343, 501], "padding": 0}, "axis": null},
                      "x2": {"field": "s"}, "y": {"value": -188},
                      "color": {"field": "s", "type": "nominal", "legend": null}}},
        {"data": {"name": "legend"}, "mark": {"type": "text", "text": "V", "fontSize": 61, "align": "left", "baseline": "alphabetic", "dx": 155},
         "encoding": {"x": {"field": "s", "type": "nominal", "scale": {"type": "point", "domain": ["0.1","0.3","0.5"], "range": [-343, 501], "padding": 0}, "axis": null}, "y": {"value": -166}}},
        {"data": {"name": "legend"}, "mark": {"type": "text", "text": "G", "fontSize": 43, "align": "left", "baseline": "alphabetic", "dx": 199},
         "encoding": {"x": {"field": "s", "type": "nominal", "scale": {"type": "point", "domain": ["0.1","0.3","0.5"], "range": [-343, 501], "padding": 0}, "axis": null}, "y": {"value": -150}}},
        {"data": {"name": "legend"}, "mark": {"type": "text", "fontSize": 61, "align": "left", "baseline": "alphabetic", "dx": 234},
         "encoding": {"x": {"field": "s", "type": "nominal", "scale": {"type": "point", "domain": ["0.1","0.3","0.5"], "range": [-343, 501], "padding": 0}, "axis": null}, "y": {"value": -166}, "text": {"field": "t"}}}
      ]
    },
    {
      "width": 911, "height": 639,
      "layer": [
        {
          "data": {"name": "iv"},
          "transform": [{"filter": "datum.p === 'a2'"}],
          "mark": {"type": "line", "strokeWidth": 11, "strokeCap": "round", "strokeJoin": "round"},
          "encoding": {
            "x": {"field": "x", "type": "quantitative", "scale": {"domain": [-0.25, 0.25], "nice": false, "zero": false},
                  "axis": {"orient": "bottom", "title": null, "labels": false, "values": [-0.2,-0.15,-0.1,-0.05,0,0.05,0.1,0.15,0.2],
                           "tickSize": {"condition": {"test": "indexof([-0.2,-0.1,0,0.1,0.2], datum.value) >= 0", "value": -13}, "value": -7}}},
            "y": {"field": "y", "type": "quantitative", "scale": {"domain": [-1.06e-5, 2.4e-4], "nice": false, "zero": false},
                  "axis": {"title": null, "values": [0,2.5e-5,5e-5,7.5e-5,1e-4,1.25e-4,1.5e-4,1.75e-4,2e-4,2.25e-4], "labelPadding": 28,
                           "labelExpr": "indexof([0,5e-5,1e-4,1.5e-4,2e-4], datum.value) >= 0 ? upper(format(datum.value, '.1e')) : ''",
                           "tickSize": {"condition": {"test": "indexof([0,5e-5,1e-4,1.5e-4,2e-4], datum.value) >= 0", "value": -12}, "value": -6}}},
            "color": {"field": "s", "type": "nominal", "scale": {"domain": ["0.1","0.3","0.5"], "range": ["#7BBE36","#FFA64F","#56A9E0"]}, "legend": null}
          }
        },
        {"data": {"values": [{}]}, "mark": {"type": "text", "text": "dI", "fontSize": 74, "angle": 270, "align": "left", "baseline": "alphabetic"}, "encoding": {"x": {"value": -295}, "y": {"value": 470}}},
        {"data": {"values": [{}]}, "mark": {"type": "text", "text": "ds", "fontSize": 52, "angle": 270, "align": "left", "baseline": "alphabetic", "dx": 68, "dy": 19}, "encoding": {"x": {"value": -295}, "y": {"value": 470}}},
        {"data": {"values": [{}]}, "mark": {"type": "text", "text": "/dV", "fontSize": 74, "angle": 270, "align": "left", "baseline": "alphabetic", "dx": 128}, "encoding": {"x": {"value": -295}, "y": {"value": 470}}},
        {"data": {"values": [{}]}, "mark": {"type": "text", "text": "x", "fontSize": 60, "angle": 270, "align": "left", "baseline": "alphabetic", "dx": 245, "dy": 19}, "encoding": {"x": {"value": -295}, "y": {"value": 470}}}
      ]
    },
    {
      "width": 911, "height": 639,
      "layer": [
        {
          "data": {"name": "iv"},
          "transform": [{"filter": "datum.p === 'b2'"}],
          "mark": {"type": "line", "strokeWidth": 11, "strokeCap": "round", "strokeJoin": "round", "interpolate": "monotone"},
          "encoding": {
            "x": {"field": "x", "type": "quantitative", "scale": {"domain": [-0.25, 0.25], "nice": false, "zero": false},
                  "axis": {"orient": "bottom", "title": null, "labels": false, "values": [-0.195,-0.13,-0.065,0,0.065,0.13,0.195],
                           "tickSize": {"condition": {"test": "indexof([-0.13,0,0.13], datum.value) >= 0", "value": -13}, "value": -7}}},
            "y": {"field": "y", "type": "quantitative", "scale": {"domain": [-6e-6, 1.3e-4], "nice": false, "zero": false},
                  "axis": {"title": null, "values": [0,1.35e-5,2.7e-5,4.05e-5,5.4e-5,6.75e-5,8.1e-5,9.45e-5,1.08e-4,1.215e-4], "labelPadding": 28,
                           "labelExpr": "indexof([0,2.7e-5,5.4e-5,8.1e-5,1.08e-4], datum.value) >= 0 ? upper(format(datum.value, '.2e')) : ''",
                           "tickSize": {"condition": {"test": "indexof([0,2.7e-5,5.4e-5,8.1e-5,1.08e-4], datum.value) >= 0", "value": -12}, "value": -6}}},
            "color": {"field": "s", "type": "nominal", "scale": {"domain": ["0.1","0.3","0.5"], "range": ["#7BBE36","#FFA64F","#56A9E0"]}, "legend": null}
          }
        }
      ]
    },
    {
      "width": 911, "height": 639,
      "layer": [
        {
          "data": {"name": "iv"},
          "transform": [{"filter": "datum.p === 'c2'"}],
          "mark": {"type": "line", "strokeWidth": 11, "strokeCap": "round", "strokeJoin": "round", "interpolate": "monotone"},
          "encoding": {
            "x": {"field": "x", "type": "quantitative", "scale": {"domain": [-0.25, 0.25], "nice": false, "zero": false},
                  "axis": {"orient": "bottom", "title": null, "labels": false, "values": [-0.2083,-0.1667,-0.125,-0.0833,-0.0417,0,0.0417,0.0833,0.125,0.1667,0.2083],
                           "tickSize": {"condition": {"test": "indexof([-0.1667,-0.0833,0,0.0833,0.1667], datum.value) >= 0", "value": -13}, "value": -7}}},
            "y": {"field": "y", "type": "quantitative", "scale": {"domain": [-6.2e-6, 1.3e-4], "nice": false, "zero": false},
                  "axis": {"title": null, "values": [0,1.7e-5,3.4e-5,5.1e-5,6.8e-5,8.5e-5,1.02e-4,1.19e-4], "labelPadding": 28,
                           "labelExpr": "indexof([0,3.4e-5,6.8e-5,1.02e-4], datum.value) >= 0 ? upper(format(datum.value, '.2e')) : ''",
                           "tickSize": {"condition": {"test": "indexof([0,3.4e-5,6.8e-5,1.02e-4], datum.value) >= 0", "value": -12}, "value": -6}}},
            "color": {"field": "s", "type": "nominal", "scale": {"domain": ["0.1","0.3","0.5"], "range": ["#7BBE36","#FFA64F","#56A9E0"]}, "legend": null}
          }
        }
      ]
    },
    {
      "width": 911, "height": 639,
      "layer": [
        {
          "data": {"name": "iv"},
          "transform": [{"filter": "datum.p === 'a3'"}],
          "mark": {"type": "line", "strokeWidth": 11, "strokeCap": "round", "strokeJoin": "round"},
          "encoding": {
            "x": {"field": "x", "type": "quantitative", "scale": {"domain": [-0.25, 0.25], "nice": false, "zero": false},
                  "axis": {"orient": "bottom", "title": null, "values": [-0.2,-0.15,-0.1,-0.05,0,0.05,0.1,0.15,0.2], "labelPadding": 33,
                           "labelExpr": "indexof([-0.2,-0.1,0,0.1,0.2], datum.value) >= 0 ? replace(format(datum.value, '.1f'), '\u2212', '-') : ''",
                           "tickSize": {"condition": {"test": "indexof([-0.2,-0.1,0,0.1,0.2], datum.value) >= 0", "value": -13}, "value": -7}}},
            "y": {"field": "y", "type": "quantitative", "scale": {"domain": [-0.053, 0.053], "nice": false, "zero": false},
                  "axis": {"title": null, "values": [-0.042,-0.0315,-0.021,-0.0105,0,0.0105,0.021,0.0315,0.042], "labelPadding": 28,
                           "labelExpr": "indexof([-0.042,-0.021,0,0.021,0.042], datum.value) >= 0 ? replace(format(datum.value, '.3f'), '\u2212', '-') : ''",
                           "tickSize": {"condition": {"test": "indexof([-0.042,-0.021,0,0.021,0.042], datum.value) >= 0", "value": -12}, "value": -6}}},
            "color": {"field": "s", "type": "nominal", "scale": {"domain": ["0.1","0.3","0.5"], "range": ["#7BBE36","#FFA64F","#56A9E0"]}, "legend": null}
          }
        },
        {"data": {"values": [{}]}, "mark": {"type": "text", "text": "d", "fontSize": 70, "angle": 270, "align": "left", "baseline": "alphabetic"}, "encoding": {"x": {"value": -287}, "y": {"value": 493}}},
        {"data": {"values": [{}]}, "mark": {"type": "text", "text": "2", "fontSize": 60, "angle": 270, "align": "left", "baseline": "alphabetic", "dx": 40, "dy": -47}, "encoding": {"x": {"value": -287}, "y": {"value": 493}}},
        {"data": {"values": [{}]}, "mark": {"type": "text", "text": "I", "fontSize": 70, "angle": 270, "align": "left", "baseline": "alphabetic", "dx": 75}, "encoding": {"x": {"value": -287}, "y": {"value": 493}}},
        {"data": {"values": [{}]}, "mark": {"type": "text", "text": "ds", "fontSize": 54, "angle": 270, "align": "left", "baseline": "alphabetic", "dx": 99, "dy": 27}, "encoding": {"x": {"value": -287}, "y": {"value": 493}}},
        {"data": {"values": [{}]}, "mark": {"type": "text", "text": "/dV", "fontSize": 70, "angle": 270, "align": "left", "baseline": "alphabetic", "dx": 167}, "encoding": {"x": {"value": -287}, "y": {"value": 493}}},
        {"data": {"values": [{}]}, "mark": {"type": "text", "text": "2", "fontSize": 60, "angle": 270, "align": "left", "baseline": "alphabetic", "dx": 282, "dy": -47}, "encoding": {"x": {"value": -287}, "y": {"value": 493}}},
        {"data": {"values": [{}]}, "mark": {"type": "text", "text": "x", "fontSize": 54, "angle": 270, "align": "left", "baseline": "alphabetic", "dx": 319, "dy": 27}, "encoding": {"x": {"value": -287}, "y": {"value": 493}}},
        {"data": {"values": [{}]}, "mark": {"type": "text", "text": "V", "fontSize": 51, "align": "left", "baseline": "alphabetic"}, "encoding": {"x": {"value": 396}, "y": {"value": 770}}},
        {"data": {"values": [{}]}, "mark": {"type": "text", "text": "x", "fontSize": 38, "align": "left", "baseline": "alphabetic"}, "encoding": {"x": {"value": 430}, "y": {"value": 784}}},
        {"data": {"values": [{}]}, "mark": {"type": "text", "text": "(V)", "fontSize": 51, "align": "left", "baseline": "alphabetic"}, "encoding": {"x": {"value": 450}, "y": {"value": 770}}}
      ]
    },
    {
      "width": 911, "height": 639,
      "layer": [
        {
          "data": {"name": "iv"},
          "transform": [{"filter": "datum.p === 'b3'"}],
          "mark": {"type": "line", "strokeWidth": 11, "strokeCap": "round", "strokeJoin": "round", "interpolate": "monotone"},
          "encoding": {
            "x": {"field": "x", "type": "quantitative", "scale": {"domain": [-0.25, 0.25], "nice": false, "zero": false},
                  "axis": {"orient": "bottom", "title": null, "values": [-0.2,-0.15,-0.1,-0.05,0,0.05,0.1,0.15,0.2], "labelPadding": 33,
                           "labelExpr": "indexof([-0.2,-0.1,0,0.1,0.2], datum.value) >= 0 ? replace(format(datum.value, '.1f'), '\u2212', '-') : ''",
                           "tickSize": {"condition": {"test": "indexof([-0.2,-0.1,0,0.1,0.2], datum.value) >= 0", "value": -13}, "value": -7}}},
            "y": {"field": "y", "type": "quantitative", "scale": {"domain": [-0.0012, 0.0012], "nice": false, "zero": false},
                  "axis": {"title": null, "values": [-0.00096,-0.00072,-0.00048,-0.00024,0,0.00024,0.00048,0.00072,0.00096], "labelPadding": 28,
                           "labelExpr": "indexof([-0.00096,-0.00048,0,0.00048,0.00096], datum.value) >= 0 ? replace(format(datum.value, '.5f'), '\u2212', '-') : ''",
                           "tickSize": {"condition": {"test": "indexof([-0.00096,-0.00048,0,0.00048,0.00096], datum.value) >= 0", "value": -12}, "value": -6}}},
            "color": {"field": "s", "type": "nominal", "scale": {"domain": ["0.1","0.3","0.5"], "range": ["#7BBE36","#FFA64F","#56A9E0"]}, "legend": null}
          }
        },
        {"data": {"values": [{}]}, "mark": {"type": "text", "text": "V", "fontSize": 51, "align": "left", "baseline": "alphabetic"}, "encoding": {"x": {"value": 404}, "y": {"value": 770}}},
        {"data": {"values": [{}]}, "mark": {"type": "text", "text": "x", "fontSize": 38, "align": "left", "baseline": "alphabetic"}, "encoding": {"x": {"value": 438}, "y": {"value": 784}}},
        {"data": {"values": [{}]}, "mark": {"type": "text", "text": "(V)", "fontSize": 51, "align": "left", "baseline": "alphabetic"}, "encoding": {"x": {"value": 458}, "y": {"value": 770}}}
      ]
    },
    {
      "width": 911, "height": 639,
      "layer": [
        {
          "data": {"name": "iv"},
          "transform": [{"filter": "datum.p === 'c3'"}],
          "mark": {"type": "line", "strokeWidth": 11, "strokeCap": "round", "strokeJoin": "round", "interpolate": "monotone"},
          "encoding": {
            "x": {"field": "x", "type": "quantitative", "scale": {"domain": [-0.25, 0.25], "nice": false, "zero": false},
                  "axis": {"orient": "bottom", "title": null, "values": [-0.2,-0.15,-0.1,-0.05,0,0.05,0.1,0.15,0.2], "labelPadding": 33,
                           "labelExpr": "indexof([-0.2,-0.1,0,0.1,0.2], datum.value) >= 0 ? replace(format(datum.value, '.1f'), '\u2212', '-') : ''",
                           "tickSize": {"condition": {"test": "indexof([-0.2,-0.1,0,0.1,0.2], datum.value) >= 0", "value": -13}, "value": -7}}},
            "y": {"field": "y", "type": "quantitative", "scale": {"domain": [-0.001095, 0.001095], "nice": false, "zero": false},
                  "axis": {"title": null, "values": [-0.001,0,0.001], "labelPadding": 28, "tickSize": -12,
                           "labelExpr": "datum.value === 0 ? '0.000' : ''"}},
            "color": {"field": "s", "type": "nominal", "scale": {"domain": ["0.1","0.3","0.5"], "range": ["#7BBE36","#FFA64F","#56A9E0"]}, "legend": null}
          }
        },
        {"data": {"values": [{}]}, "mark": {"type": "text", "text": "V", "fontSize": 51, "align": "left", "baseline": "alphabetic"}, "encoding": {"x": {"value": 414}, "y": {"value": 770}}},
        {"data": {"values": [{}]}, "mark": {"type": "text", "text": "x", "fontSize": 38, "align": "left", "baseline": "alphabetic"}, "encoding": {"x": {"value": 448}, "y": {"value": 784}}},
        {"data": {"values": [{}]}, "mark": {"type": "text", "text": "(V)", "fontSize": 51, "align": "left", "baseline": "alphabetic"}, "encoding": {"x": {"value": 468}, "y": {"value": 770}}}
      ]
    }
  ],
  "config": {
    "view": {"stroke": "black", "strokeWidth": 4},
    "axis": {"domain": false, "grid": false, "labelFont": "Liberation Serif", "labelFontWeight": "bold", "labelFontSize": 51, "labelLimit": 0,
             "labelColor": "black", "tickColor": "black", "tickWidth": 3, "labelFlush": false, "labelOverlap": false, "labelBound": false},
    "text": {"font": "Liberation Serif", "fontWeight": "bold", "color": "black"}
  }
}
